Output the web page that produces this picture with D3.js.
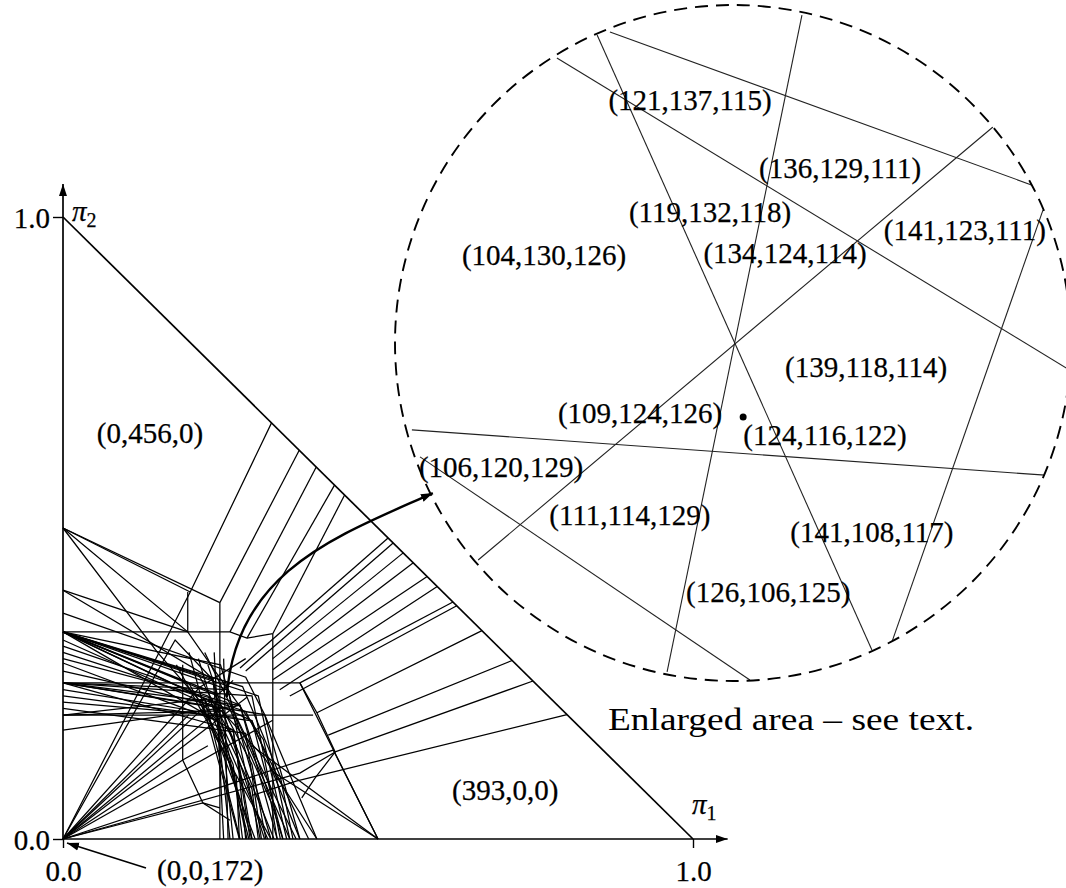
<!DOCTYPE html>
<html>
<head>
<meta charset="utf-8">
<script src="https://cdn.jsdelivr.net/npm/d3@7"></script>
<style>
  body { margin: 0; background: #fff; }
  svg text { font-family: "Liberation Serif", "Times New Roman", serif; fill: #000; stroke: #000; stroke-width: 0.25px; }
</style>
</head>
<body>
<svg id="plot" width="1066" height="888"></svg>
<script>
// axis ticks of the simplex (pi1, pi2)
var xTicks = [0, 1];
var yTicks = [0, 1];

// big triangle: line pieces in (pi1, pi2)
var hypFan = [
  [[0.331, 0.669], [0.202, 0.397], [0, 0]],
  [[0.375, 0.625], [0.249, 0.380]],
  [[0.402, 0.598], [0.265, 0.333]],
  [[0.431, 0.569], [0.292, 0.323]],
  [[0.447, 0.553], [0.333, 0.330]],
  [[0.516, 0.484], [0.281, 0.275]],
  [[0.524, 0.476], [0.290, 0.270]],
  [[0.540, 0.460], [0.333, 0.290]],
  [[0.556, 0.444], [0.333, 0.272]],
  [[0.578, 0.422], [0.333, 0.256]],
  [[0.594, 0.406], [0.344, 0.240]],
  [[0.619, 0.381], [0.376, 0.251]],
  [[0.625, 0.375], [0.360, 0.230]],
  [[0.665, 0.335], [0.403, 0.203]],
  [[0.713, 0.287], [0.421, 0.167]],
  [[0.746, 0.254], [0.432, 0.140]],
  [[0.800, 0.200], [0.370, 0.093], [0.300, 0.070]]
];

var axisFan = [
  [[0, 0.500], [0.249, 0.380]],
  [[0, 0.500], [0.202, 0.397]],
  [[0, 0.500], [0.198, 0.333], [0.262, 0.240]],
  [[0, 0.500], [0.150, 0.300], [0.245, 0.190]],
  [[0, 0.400], [0.198, 0.333]],
  [[0, 0.400], [0.238, 0.256], [0.292, 0]],
  [[0, 0.363], [0.290, 0.260], [0.320, 0.200], [0.403, 0]],
  [[0, 0.333], [0.265, 0.333], [0.292, 0.323], [0.333, 0.330]],
  [[0, 0.333], [0.262, 0.240], [0.313, 0]],
  [[0, 0.333], [0.281, 0.215], [0.349, 0]],
  [[0, 0.333], [0.300, 0.190], [0.376, 0]],
  [[0, 0.333], [0.310, 0.230], [0.360, 0]],
  [[0, 0.333], [0.238, 0.256], [0.265, 0]],
  [[0, 0.333], [0.270, 0.175], [0.297, 0]],
  [[0, 0.333], [0.225, 0.225], [0.281, 0]],
  [[0, 0.333], [0.250, 0.280], [0.330, 0]],
  [[0, 0.333], [0.215, 0.265], [0.275, 0.150], [0.290, 0]],
  [[0, 0.333], [0.285, 0.245], [0.345, 0.100], [0.365, 0]],
  [[0, 0.333], [0.240, 0.235], [0.300, 0.120], [0.322, 0]],
  [[0, 0.333], [0.200, 0.250], [0.255, 0.150], [0.270, 0]],
  [[0, 0.320], [0.252, 0.206], [0.335, 0]],
  [[0, 0.310], [0.230, 0.230], [0.300, 0.080], [0.310, 0]],
  [[0, 0.300], [0.290, 0.205], [0.390, 0]],
  [[0, 0.290], [0.260, 0.220], [0.330, 0.060], [0.340, 0]],
  [[0, 0.283], [0.245, 0.190], [0.325, 0]],
  [[0, 0.270], [0.240, 0.215], [0.295, 0]],
  [[0, 0.251], [0.376, 0.251], [0.500, 0]],
  [[0, 0.251], [0.281, 0.215], [0.340, 0]],
  [[0, 0.251], [0.270, 0.175], [0.300, 0]],
  [[0, 0.251], [0.320, 0.200], [0.376, 0]],
  [[0, 0.251], [0.262, 0.240], [0.318, 0.160], [0.355, 0]],
  [[0, 0.251], [0.220, 0.215], [0.275, 0.100], [0.280, 0]],
  [[0, 0.251], [0.300, 0.230], [0.345, 0]],
  [[0, 0.240], [0.275, 0.195], [0.360, 0]],
  [[0, 0.230], [0.300, 0.190], [0.349, 0]],
  [[0, 0.220], [0.230, 0.200], [0.305, 0]],
  [[0, 0.210], [0.290, 0.170], [0.315, 0]],
  [[0, 0.199], [0.397, 0.199]],
  [[0, 0.199], [0.252, 0.206], [0.320, 0.130], [0.403, 0]],
  [[0, 0.199], [0.225, 0.225], [0.270, 0.120], [0.285, 0]],
  [[0, 0.175], [0.281, 0.215]]
];

var originFan = [
  [[0, 0], [0.178, 0.320], [0.238, 0.256]],
  [[0, 0], [0.217, 0.244], [0.290, 0.290]],
  [[0, 0], [0.292, 0.228]],
  [[0, 0], [0.250, 0.210]],
  [[0, 0], [0.270, 0.255]],
  [[0, 0], [0.200, 0.200]],
  [[0, 0], [0.333, 0.191]],
  [[0, 0], [0.376, 0.106], [0.432, 0.140]],
  [[0, 0], [0.429, 0.143], [0.500, 0]],
  [[0, 0], [0.222, 0.058], [0.265, 0.030]],
  [[0, 0], [0.190, 0.127], [0.230, 0.150]]
];

var boxLines = [
  [[0.249, 0.380], [0.249, 0]],
  [[0.333, 0.330], [0.333, 0]],
  [[0.198, 0.397], [0.198, 0.333]],
  [[0.376, 0.251], [0.403, 0.203], [0.432, 0.140], [0.400, 0.098], [0.379, 0.066]],
  [[0.190, 0.280], [0.190, 0.127], [0.222, 0.058], [0.249, 0.050]],
  [[0.300, 0.150], [0.500, 0]],
  [[0.330, 0.110], [0.500, 0]],
  [[0.200, 0.300], [0.280, 0]],
  [[0.215, 0.290], [0.300, 0]],
  [[0.230, 0.280], [0.320, 0]],
  [[0.180, 0.280], [0.330, 0]],
  [[0.225, 0.300], [0.370, 0]],
  [[0.240, 0.300], [0.255, 0]],
  [[0.255, 0.290], [0.262, 0]]
];

// the edge pi1 + pi2 = 1
var hypotenuse = [[0, 1], [1, 0]];

var mainLabels = ["(0,456,0)", "(393,0,0)"];
var mainLabelAt = [[0.138, 0.653], [0.702, 0.079]];

// spot the enlargement comes from
var zoomSource = [0.260, 0.228];

// enlarged area: local coordinates, -1..1 across the circle
var zoomLines = [
  [[-0.521, 0.843], [0.991, -0.077]],
  [[-0.402, 0.911], [0.411, -0.908]],
  [[-0.364, 0.920], [0.885, 0.467]],
  [[0.204, 0.970], [-0.195, -0.973]],
  [[0.769, 0.639], [-0.754, -0.642]],
  [[0.917, 0.393], [0.470, -0.885]],
  [[-0.950, -0.257], [0.923, -0.391]],
  [[-0.926, -0.337], [0.050, -0.997]]
];
var zoomLabels = ["(121,137,115)", "(136,129,111)", "(119,132,118)", "(104,130,126)",
  "(134,124,114)", "(141,123,111)", "(139,118,114)", "(109,124,126)", "(124,116,122)",
  "(106,120,129)", "(111,114,129)", "(141,108,117)", "(126,106,125)"];
var zoomLabelAt = [[-0.127, 0.719], [0.317, 0.518], [-0.068, 0.388], [-0.559, 0.260],
  [0.154, 0.266], [0.686, 0.334], [0.394, -0.071], [-0.275, -0.207], [0.272, -0.272],
  [-0.686, -0.367], [-0.305, -0.509], [0.411, -0.559], [0.104, -0.737]];
var zoomPoint = [0.030, -0.219];

var svg = d3.select("#plot");

var x = d3.scaleLinear().domain([0, 1]).range([63, 693]);
var y = d3.scaleLinear().domain([0, 1]).range([839, 217]);

// circle of the enlargement
var cx = 733, cy = 343, r = 338;
var u = d3.scaleLinear().domain([-1, 1]).range([cx - r, cx + r]);
var v = d3.scaleLinear().domain([-1, 1]).range([cy + r, cy - r]);

var defs = svg.append("defs");
defs.append("marker")
  .attr("id", "head")
  .attr("viewBox", "0 -5 12 10")
  .attr("refX", 12).attr("refY", 0)
  .attr("markerWidth", 12).attr("markerHeight", 10)
  .attr("markerUnits", "userSpaceOnUse")
  .attr("orient", "auto")
  .append("path").attr("d", "M0,-4L12,0L0,4Z").attr("fill", "#000");
defs.append("clipPath").attr("id", "circ")
  .append("circle").attr("cx", cx).attr("cy", cy).attr("r", r);

var line = d3.line().x(function (d) { return x(d[0]); }).y(function (d) { return y(d[1]); });

// all pieces in the triangle
var pieces = hypFan.concat(axisFan, originFan, boxLines);
svg.append("g")
  .selectAll("path")
  .data(pieces)
  .enter().append("path")
  .attr("d", line)
  .attr("fill", "none")
  .attr("stroke", "#000")
  .attr("stroke-width", 1.25);

svg.append("path")
  .attr("d", line(hypotenuse))
  .attr("stroke", "#000").attr("stroke-width", 1.7).attr("fill", "none");

// axes
var xAxis = svg.append("g")
  .attr("transform", "translate(0," + y(0) + ")")
  .call(d3.axisBottom(x).tickValues(xTicks).tickFormat(d3.format(".1f")).tickSize(9).tickPadding(12));
var yAxis = svg.append("g")
  .attr("transform", "translate(" + x(0) + ",0)")
  .call(d3.axisLeft(y).tickValues(yTicks).tickFormat(d3.format(".1f")).tickSize(10).tickPadding(3));
[xAxis, yAxis].forEach(function (g) {
  g.select(".domain").remove();
  g.selectAll("line").attr("stroke", "#000").attr("stroke-width", 1.4);
  g.selectAll("text").style("font-family", "Liberation Serif").style("font-size", "29px").attr("fill", "#000");
});
yAxis.selectAll("text").attr("dy", "0.35em");

svg.append("line")
  .attr("x1", x(0)).attr("y1", y(0)).attr("x2", x(1.055)).attr("y2", y(0))
  .attr("stroke", "#000").attr("stroke-width", 1.7).attr("marker-end", "url(#head)");
svg.append("line")
  .attr("x1", x(0)).attr("y1", y(0)).attr("x2", x(0)).attr("y2", y(1.053))
  .attr("stroke", "#000").attr("stroke-width", 1.7).attr("marker-end", "url(#head)");

var p2 = svg.append("text").attr("x", x(0) + 9).attr("y", y(1) + 4).style("font-size", "29px");
p2.append("tspan").text("π").style("font-style", "italic");
p2.append("tspan").text("2").attr("dy", 6).style("font-size", "20px");
var p1 = svg.append("text").attr("x", x(1) - 1).attr("y", y(0) - 25).style("font-size", "29px");
p1.append("tspan").text("π").style("font-style", "italic");
p1.append("tspan").text("1").attr("dy", 6).style("font-size", "20px");

svg.append("g")
  .selectAll("text")
  .data(mainLabels)
  .enter().append("text")
  .attr("x", function (d, i) { return x(mainLabelAt[i][0]); })
  .attr("y", function (d, i) { return y(mainLabelAt[i][1]); })
  .attr("dy", "0.35em")
  .attr("text-anchor", "middle")
  .style("font-size", "29px")
  .text(function (d) { return d; });

// (0,0,172) points at the corner
svg.append("line")
  .attr("x1", x(0) + 83).attr("y1", y(0) + 29)
  .attr("x2", x(0) + 4).attr("y2", y(0) + 4)
  .attr("stroke", "#000").attr("stroke-width", 1.6).attr("marker-end", "url(#head)");
svg.append("text")
  .attr("x", x(0) + 94).attr("y", y(0) + 31).attr("dy", "0.35em")
  .style("font-size", "29px")
  .text("(0,0,172)");

// enlarged area
var zg = svg.append("g");
zg.append("g").attr("clip-path", "url(#circ)")
  .selectAll("line")
  .data(zoomLines)
  .enter().append("line")
  .attr("x1", function (d) { return u(d[0][0]); })
  .attr("y1", function (d) { return v(d[0][1]); })
  .attr("x2", function (d) { return u(d[1][0]); })
  .attr("y2", function (d) { return v(d[1][1]); })
  .attr("stroke", "#222").attr("stroke-width", 1.1);
zg.append("circle")
  .attr("cx", cx).attr("cy", cy).attr("r", r)
  .attr("fill", "none").attr("stroke", "#000").attr("stroke-width", 1.9)
  .attr("stroke-dasharray", "13,8");
zg.append("circle")
  .attr("cx", u(zoomPoint[0])).attr("cy", v(zoomPoint[1])).attr("r", 3.5).attr("fill", "#000");
zg.append("g")
  .selectAll("text")
  .data(zoomLabels)
  .enter().append("text")
  .attr("x", function (d, i) { return u(zoomLabelAt[i][0]); })
  .attr("y", function (d, i) { return v(zoomLabelAt[i][1]); })
  .attr("dy", "0.35em")
  .attr("text-anchor", "middle")
  .style("font-size", "29px")
  .text(function (d) { return d; });

svg.append("text")
  .attr("x", cx + 58).attr("y", cy + r + 38).attr("dy", "0.35em")
  .attr("text-anchor", "middle")
  .attr("textLength", 366).attr("lengthAdjust", "spacingAndGlyphs")
  .style("font-size", "32px")
  .style("stroke-width", "0px")
  .text("Enlarged area \u2013 see text.");

// curved arrow from the source spot to the circle
var sx = x(zoomSource[0]), sy = y(zoomSource[1]);
var ex = u(-0.888), ey = v(-0.444);
svg.append("path")
  .attr("d", "M" + sx + "," + sy + "C" + (sx + 8) + "," + (sy - 127) + " " + (ex - 93) + "," + (ey + 42) + " " + ex + "," + ey)
  .attr("fill", "none").attr("stroke", "#000").attr("stroke-width", 2.4)
  .attr("marker-end", "url(#head)");
</script>
</body>
</html>
